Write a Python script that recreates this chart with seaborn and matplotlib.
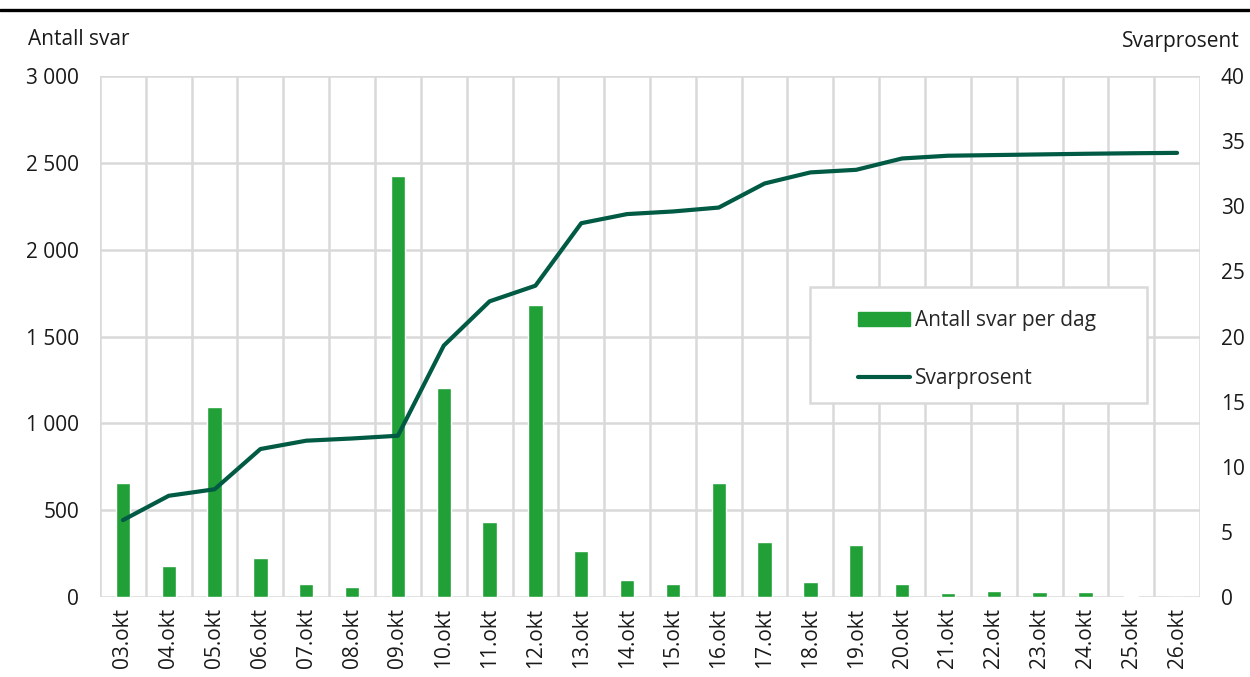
import matplotlib
matplotlib.use('Agg')
import matplotlib.pyplot as plt
from matplotlib.patches import Rectangle
from matplotlib.lines import Line2D
from matplotlib.ticker import FuncFormatter, MultipleLocator
import seaborn as sns
import pandas as pd

# data
dates = ["03.okt", "04.okt", "05.okt", "06.okt", "07.okt", "08.okt", "09.okt", "10.okt",
         "11.okt", "12.okt", "13.okt", "14.okt", "15.okt", "16.okt", "17.okt", "18.okt",
         "19.okt", "20.okt", "21.okt", "22.okt", "23.okt", "24.okt", "25.okt", "26.okt"]
svar_per_dag = [655, 178, 1093, 225, 75, 60, 2424, 1203,
                430, 1681, 267, 98, 77, 655, 318, 88,
                298, 75, 22, 35, 31, 27, 3, 0]
svarprosent = [5.9, 7.77, 8.27, 11.36, 12.0, 12.17, 12.38, 19.3,
               22.7, 23.9, 28.7, 29.4, 29.6, 29.9, 31.75, 32.6,
               32.8, 33.67, 33.88, 33.93, 33.98, 34.03, 34.07, 34.1]

bar_color = "#21A038"
line_color = "#005A44"
grid_color = "#D9D9D9"
text_color = "#1a1a1a"
fs = 15

df = pd.DataFrame({"dato": dates, "svar": svar_per_dag, "prosent": svarprosent,
                   "pos": range(len(dates))})

sns.set_style("white")
plt.rcParams['font.family'] = ['Open Sans', 'DejaVu Sans']

fig = plt.figure(figsize=(12.5, 6.77), dpi=100)
ax = fig.add_axes([0.08, 0.1182, 0.88, 0.7695])

sns.barplot(data=df, x="dato", y="svar", color=bar_color, width=0.31,
            saturation=1, ax=ax, zorder=3)
ax.set_xlim(-0.5, len(dates) - 0.5)
ax.set_ylim(0, 3000)
ax.yaxis.set_major_locator(MultipleLocator(500))
ax.yaxis.set_major_formatter(FuncFormatter(lambda v, p: f"{int(v):,}".replace(",", " ")))
ax.set_xticks(range(len(dates)))
ax.set_xticklabels(dates, rotation=90)
ax.set_xticks([i - 0.5 for i in range(len(dates) + 1)], minor=True)
ax.grid(False)
ax.grid(which="minor", axis="x", color=grid_color, linewidth=1.8, zorder=0)
ax.grid(which="major", axis="y", color=grid_color, linewidth=1.8, zorder=0)
ax.set_axisbelow(True)
ax.set_xlabel("")
ax.set_ylabel("")
for s in ax.spines.values():
    s.set_visible(False)
ax.tick_params(which="both", length=0)
ax.tick_params(axis="y", pad=15, labelsize=fs, labelcolor=text_color)
ax.tick_params(axis="x", pad=8, labelsize=fs, labelcolor=text_color)

ax2 = ax.twinx()
sns.lineplot(data=df, x="pos", y="prosent", color=line_color, linewidth=3.0,
             ax=ax2, solid_capstyle="round", solid_joinstyle="round")
ax2.set_ylim(0, 40)
ax2.yaxis.set_major_locator(MultipleLocator(5))
ax2.set_xlim(-0.5, len(dates) - 0.5)
ax2.set_xlabel("")
ax2.set_ylabel("")
for s in ax2.spines.values():
    s.set_visible(False)
ax2.tick_params(length=0, pad=15, labelsize=fs, labelcolor=text_color)

# legend box
ax2.add_patch(Rectangle((0.645, 0.372), 0.307, 0.223, transform=ax.transAxes,
                        facecolor="white", edgecolor=grid_color, linewidth=1.8,
                        zorder=5))
handles = [Rectangle((0, 0), 1, 1, color=bar_color),
           Line2D([], [], color=line_color, linewidth=3.0, solid_capstyle="round")]
ax2.legend(handles, ["Antall svar per dag", "Svarprosent"], frameon=False,
           loc="upper left", bbox_to_anchor=(0.689, 0.55), borderaxespad=0,
           borderpad=0, fontsize=fs, handlelength=2.5, handletextpad=0.25,
           labelspacing=1.75).set_zorder(6)

fig.text(0.0224, 0.941, "Antall svar", fontsize=fs, color=text_color, va="center", ha="left")
fig.text(0.992, 0.938, "Svarprosent", fontsize=fs, color=text_color, va="center", ha="right")
fig.add_artist(Line2D([0, 1], [0.985, 0.985], color="black", linewidth=2.4,
                      transform=fig.transFigure))

fig.savefig("out.png", dpi=100)
